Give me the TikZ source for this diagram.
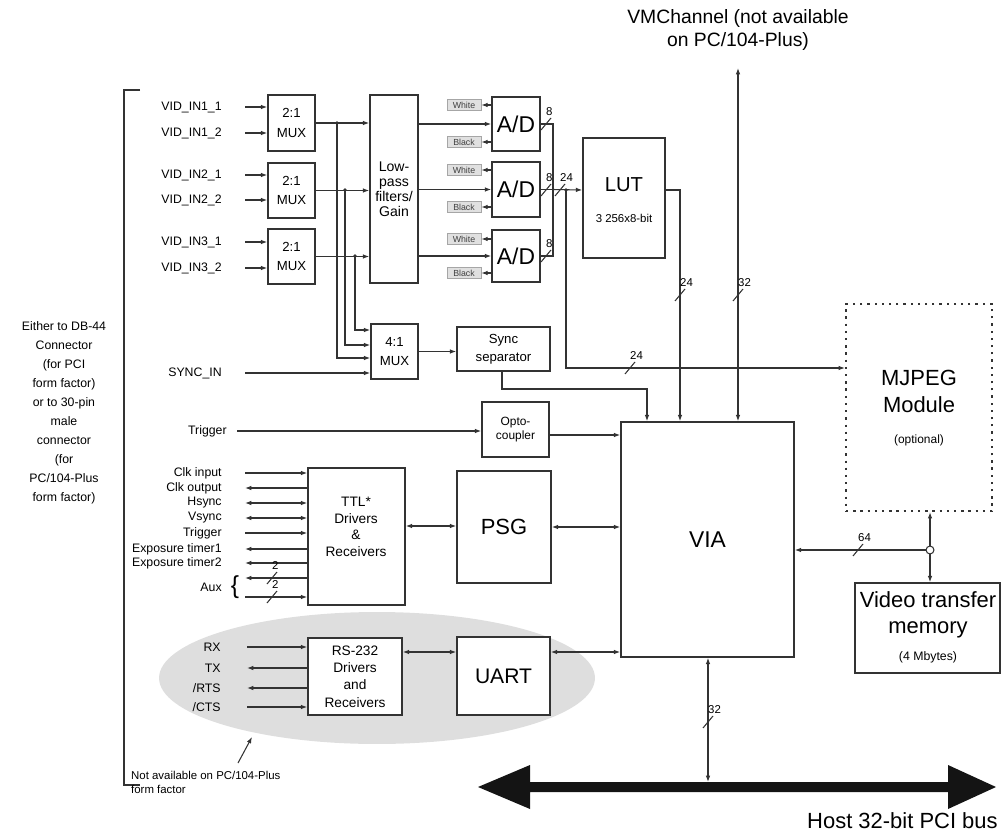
\documentclass[tikz,border=0pt]{standalone}
\usepackage{fontspec}
\setmainfont{Liberation Sans}
\usetikzlibrary{arrows.meta,fit,calc}
\newcommand{\fsz}[2]{\fontsize{#1}{#2}\selectfont}
\newcommand{\busmark}[4]{%
  \draw[w] (#1-5,#2+6) -- (#1+5,#2-6);
  \node[num,anchor=south west] (#4) at (#1-1,#2-7) {#3};}
\newcommand{\bx}[7]{%
  \node[box,fit={(#2,#3) (#4,#5)}] (#1) {};
  \node[align=center,inner sep=0pt,font=#6] (#1t) at (#1.center) {#7};}
\begin{document}
\begin{tikzpicture}[x=0.02cm,y=-0.02cm,
  w/.style={draw=black!80,line width=0.6pt},
  ar/.style={-{Latex[length=3.6pt,width=2.6pt]}},
  ra/.style={{Latex[length=3.6pt,width=2.6pt]}-},
  dar/.style={{Latex[length=3.6pt,width=2.6pt]}-{Latex[length=3.6pt,width=2.6pt]}},
  box/.style={draw=black!80,line width=0.9pt,fill=white,inner sep=0pt},
  lab/.style={inner sep=0pt,font=\fsz{7}{8}},
  num/.style={inner sep=0.5pt,font=\fsz{6.5}{7}},
  wb/.style={draw=black!35,fill=black!12,text=black!75,inner sep=0pt,font=\fsz{5}{5},minimum width=0.68cm,minimum height=0.21cm},
  dot/.style={circle,fill=black!80,inner sep=0pt,minimum size=2.2pt},
]
\useasboundingbox (0,0) rectangle (1003,834);

% grey ellipse (RS-232 area)
\fill[black!13] (377,678) ellipse (4.36cm and 1.32cm);

% connector bracket and text
\draw[w,line width=0.9pt] (140,90) -- (124,90) -- (124,785) -- (140,785);
\node[align=center,font=\fsz{7}{10.8}] (conn) at (64,413) {Either to DB-44\\Connector\\(for PCI\\form factor)\\or to 30-pin\\male\\connector\\(for\\PC/104-Plus\\form factor)};

% ---------------- boxes ----------------
\bx{mux1}{268}{95}{315}{151}{\fsz{7.5}{11}}{2:1\\MUX}
\bx{mux2}{268}{163}{315}{218}{\fsz{7.5}{11}}{2:1\\MUX}
\bx{mux3}{268}{229}{315}{284}{\fsz{7.5}{11}}{2:1\\MUX}
\bx{lpf}{370}{95}{418}{283}{\fsz{8}{8.5}}{Low-\\pass\\filters/\\Gain}
\bx{ad1}{492}{97}{540}{151}{\fsz{13}{14}}{A/D}
\bx{ad2}{492}{162}{540}{217}{\fsz{13}{14}}{A/D}
\bx{ad3}{492}{230}{540}{282}{\fsz{13}{14}}{A/D}
\node[box,fit={(583,138) (665,258)}] (lut) {};
\node[font=\fsz{11.5}{13}] (luttxt) at (624,185) {LUT};
\node[font=\fsz{6.5}{7}] (lutsub) at (624,218) {3 256x8-bit};
\bx{mux4}{371}{324}{418}{379}{\fsz{7.5}{10.8}}{4:1\\MUX}
\bx{sync}{457}{327}{550}{371}{\fsz{7.5}{10}}{Sync\\separator}
\bx{opto}{482}{402}{549}{457}{\fsz{6.8}{7.5}}{Opto-\\coupler}
\bx{via}{621}{422}{794}{657}{\fsz{13}{14}}{VIA}
\bx{psg}{457}{471}{551}{583}{\fsz{12.5}{14}}{PSG}
\node[box,fit={(308,468) (405,605)}] (ttl) {};
\node[align=center,font=\fsz{7.8}{9.4}] (ttltxt) at (356,527) {TTL*\\Drivers\\\&\\Receivers};
\bx{rs}{308}{638}{402}{715}{\fsz{7.8}{9.8}}{RS-232\\Drivers\\and\\Receivers}
\bx{uart}{457}{637}{550}{715}{\fsz{12}{14}}{UART}
\node[draw=black!80,line width=1.3pt,dash pattern=on 1.3pt off 2.8pt,inner sep=0pt,fit={(846,304) (992,511)}] (mjpeg) {};
\node[align=center,font=\fsz{12.5}{15.3}] (mjtxt) at (919,391) {MJPEG\\Module};
\node[font=\fsz{6.8}{7}] (mjopt) at (919,440) {(optional)};
\node[box,fit={(855,583) (1000,673)}] (vtm) {};
\node[align=center,font=\fsz{12.5}{14.5}] (vtmtxt) at (928,615) {Video transfer\\memory};
\node[font=\fsz{7}{7}] (vtmsub) at (928,657) {(4 Mbytes)};

% ---------------- video inputs ----------------
\foreach \y/\t/\m [count=\i] in {107/VID\_IN1\_1/mux1, 133/VID\_IN1\_2/mux1, 175/VID\_IN2\_1/mux2, 200/VID\_IN2\_2/mux2, 242/VID\_IN3\_1/mux3, 268/VID\_IN3\_2/mux3} {
  \node[lab,anchor=east] (vin\i) at (222,\y) {\t};
  \draw[w,ar] ([xshift=0.46cm]vin\i.east) -- (\m.west |- vin\i);
}

% mux outputs to filters and branches to 4:1 MUX
\draw[w,ar] (mux1.east) -- (lpf.west |- mux1.east);
\draw[w,ar] (mux2.east) -- (lpf.west |- mux2.east);
\draw[w,ar] (mux3.east) -- (lpf.west |- mux3.east);
\coordinate (b1) at (337,123);
\coordinate (b2) at (345,190);
\coordinate (b3) at (355,256);
\draw[w,ar] (b1) |- (mux4.west |- 0,358);
\draw[w,ar] (b2) |- (mux4.west |- 0,345);
\draw[w,ar] (b3) |- (mux4.west |- 0,330);
\node[dot] (d1) at (b1) {};
\node[dot] (d2) at (b2) {};
\node[dot] (d3) at (b3) {};

% SYNC_IN
\node[lab,anchor=east] (syncin) at (222,373) {SYNC\_IN};
\draw[w,ar] ([xshift=0.46cm]syncin.east) -- (mux4.west |- syncin);
\draw[w,ar] (mux4.east) -- (sync.west |- mux4.east);
\draw[w,ar] (sync.south -| 502,0) -- (502,389) -| (via.north -| 647,0);

% Trigger / opto
\node[lab,anchor=east] (trig) at (227,431) {Trigger};
\draw[w,ar] ([xshift=0.2cm]trig.east) -- (opto.west |- trig);
\draw[w,ar] (opto.east |- 0,435) -- (via.west |- 0,435);

% filters to A/D
\draw[w,ar] (lpf.east |- ad1.west) -- (ad1.west);
\draw[w,ar] (lpf.east |- ad2.west) -- (ad2.west);
\draw[w,ar] (lpf.east |- ad3.west) -- (ad3.west);

% White / Black references
\foreach \a/\yw/\yb in {ad1/105/142, ad2/170/207, ad3/239/273} {
  \node[wb] (w\a) at (464,\yw) {White};
  \node[wb] (k\a) at (464,\yb) {Black};
  \draw[w,ar] (\a.west |- w\a) -- (w\a.east);
  \draw[w,ar] (\a.west |- k\a) -- (k\a.east);
}

% A/D outputs, bus to LUT
\coordinate (bt) at (553,124);
\coordinate (bb) at (553,256);
\draw[w] (ad1.east) -- (bt) -- (bb) -- (ad3.east);
\draw[w] (ad2.east) -- (ad2.east -| bt);
\busmark{546}{124}{8}{n8a}
\busmark{546}{190}{8}{n8b}
\busmark{546}{256}{8}{n8c}
\coordinate (j24) at (566,190);
\draw[w,ar] (ad2.east -| bt) -- (lut.west |- j24);
\busmark{560}{190}{24}{n24a}
\node[dot] (dj24) at (j24) {};

% LUT to VIA
\draw[w,ar] (lut.east |- 0,190) -| (via.north -| 680,0);
\busmark{680}{295}{24}{n24b}

% VMChannel
\node[align=center,font=\fsz{11}{13.6}] (vmc) at (738,30) {VMChannel (not available\\on PC/104-Plus)};
\coordinate (vmtop) at (738,68);
\draw[w,dar] (via.north -| vmtop) -- (vmtop);
\busmark{738}{295}{32}{n32a}

% 24-bit to MJPEG
\draw[w,ar] (j24) |- (mjpeg.west |- 0,368);
\busmark{630}{368}{24}{n24c}
\node[dot] (x1) at (680,368) {};
\node[dot] (x2) at (738,368) {};

% VIA <-> memory / MJPEG
\coordinate (jc) at (930,550);
\draw[w,dar] (mjpeg.south -| jc) -- (vtm.north -| jc);
\draw[w,ar] (jc) -- (via.east |- jc);
\node[circle,draw=black!80,line width=0.6pt,fill=white,inner sep=0pt,minimum size=4.5pt] (jcirc) at (jc) {};
\busmark{858}{550}{64}{n64}

% PSG
\draw[w,dar] (psg.east |- 0,527) -- (via.west |- 0,527);
\draw[w,dar] (ttl.east |- 0,526) -- (psg.west |- 0,526);

% TTL signals
\foreach \y/\t/\s [count=\i] in {473/Clk input/ar, 488/Clk output/ra, 503/Hsync/dar, 518/Vsync/dar, 533/Trigger/ar, 549/Exposure timer1/ra, 563/Exposure timer2/ra} {
  \node[lab,anchor=east] (ts\i) at (222,\y) {\t};
  \draw[w,\s] (245,\y) -- (ttl.west |- ts\i);
}
\coordinate (ax1) at (245,578);
\coordinate (ax2) at (245,597);
\draw[w,ra] (ax1) -- (ttl.west |- ax1);
\draw[w,ar] (ax2) -- (ttl.west |- ax2);
\busmark{272}{578}{2}{na1}
\busmark{272}{597}{2}{na2}
\node[lab,anchor=east] (aux) at (222,587) {Aux};
\node[inner sep=0pt,font=\fsz{14}{14}] (brace) at (235,587) {\{};

% RS-232 signals
\foreach \y/\t/\s [count=\i] in {647/RX/ar, 668/TX/ra, 688/{/RTS}/ra, 707/{/CTS}/ar} {
  \node[lab,anchor=east] (rsl\i) at (221,\y) {\t};
  \draw[w,\s] (247,\y) -- (rs.west |- rsl\i);
}
\draw[w,dar] (rs.east |- 0,652) -- (uart.west |- 0,652);
\draw[w,dar] (uart.east |- 0,652) -- (via.west |- 0,652);

% note
\node[anchor=north west,align=left,font=\fsz{6.5}{8}] (note) at (125,765) {Not available on PC/104-Plus\\form factor};
\coordinate (nt) at (238,763);
\coordinate (nh) at (252,737);
\draw[w,ar] (nt) -- (nh);

% PCI bus
\fill[black!92] (478,787) -- (530,765) -- (530,782) -- (948,782) -- (948,765) -- (996,787) -- (948,809) -- (948,792) -- (530,792) -- (530,809) -- cycle;
\coordinate (bus) at (708,782);
\draw[w,dar] (via.south -| bus) -- (bus);
\busmark{708}{722}{32}{n32b}
\node[anchor=base east,inner sep=0pt,font=\fsz{12.5}{14}] (host) at (998,828) {Host 32-bit PCI bus};
\end{tikzpicture}
\end{document}
